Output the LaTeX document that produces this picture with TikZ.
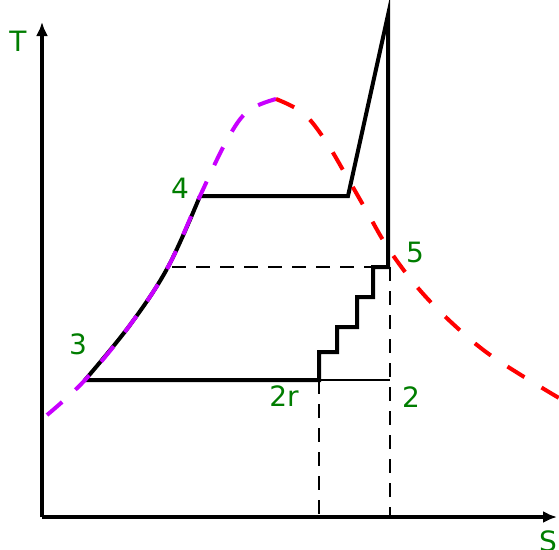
\documentclass[tikz,border=0pt]{standalone}
\usepackage{fontspec}
\setmainfont{DejaVu Sans}
\usetikzlibrary{arrows.meta}
\definecolor{lblgreen}{RGB}{0,125,0}
\definecolor{domemag}{RGB}{200,0,255}
\definecolor{domered}{RGB}{255,0,0}
\tikzset{
  axisline/.style={line width=3.5pt,-{Latex[length=14pt,width=12pt]}},
  cycleline/.style={line width=4pt,line join=miter},
  thinline/.style={line width=2pt},
  guide/.style={line width=2pt,dash pattern=on 14pt off 10pt},
  domeleft/.style={line width=4pt,domemag,dash pattern=on 20pt off 18pt},
  domeright/.style={line width=4pt,domered,dash pattern=on 20pt off 20pt},
  lbl/.style={text=lblgreen,font=\fontsize{28}{30}\selectfont,inner sep=0pt}
}
\begin{document}
\begin{tikzpicture}[x=1pt,y=-1pt]
\useasboundingbox (0,0) rectangle (559,549);
% points
\coordinate (O) at (42,517);
\coordinate (Ytip) at (42,22);
\coordinate (Xtip) at (557,517);
\coordinate (p3) at (85,380);
\coordinate (p4) at (200,196);
\coordinate (p4b) at (348,196);
\coordinate (ptop) at (388,15);
\coordinate (p5) at (388,267);
\coordinate (p2r) at (319,380);
\coordinate (p2) at (390,380);
\coordinate (dl) at (172,267);
\coordinate (s1) at (373,267);
\coordinate (b5) at (390,517);
\coordinate (b2r) at (319,517);
% axes
\draw[axisline] (O) -- (Ytip);
\draw[axisline] (O) -- (Xtip);
% guide lines
\draw[guide] (dl) -- (s1);
\draw[guide] (p5) ++(2,0) -- (b5);
\draw[guide] (p2r) -- (b2r);
\draw[thinline] (p2r) -- (p2);
% cycle
\draw[cycleline] plot[smooth,tension=0.6] coordinates {(85,380) (130,325) (168,267) (200,196)};
\draw[cycleline] (p4) -- (p4b) -- (ptop) -- (p5) -- (373,267) -- (373,297) -- (357,297) -- (357,327) -- (337,327) -- (337,352) -- (319,352) -- (p2r) -- (p3);
% saturation dome
\draw[domeleft] plot[smooth,tension=0.6] coordinates {(47,415) (85,380) (130,325) (168,267) (200,196) (227,140) (248,111) (276,99)};
\draw[domeright] plot[smooth,tension=0.6] coordinates {(276,99) (303,113) (325,140) (347,177) (366,210) (388,248) (418,288) (452,323) (493,357) (559,398)};
% labels
\node[lbl] (lT) at (18,41) {T};
\node[lbl] (lS) at (548,541) {S};
\node[lbl] (l3) at (78,344) {3};
\node[lbl] (l4) at (180,188) {4};
\node[lbl] (l5) at (415,252) {5};
\node[lbl] (l2r) at (284,396) {2r};
\node[lbl] (l2) at (411,397) {2};
\end{tikzpicture}
\end{document}
